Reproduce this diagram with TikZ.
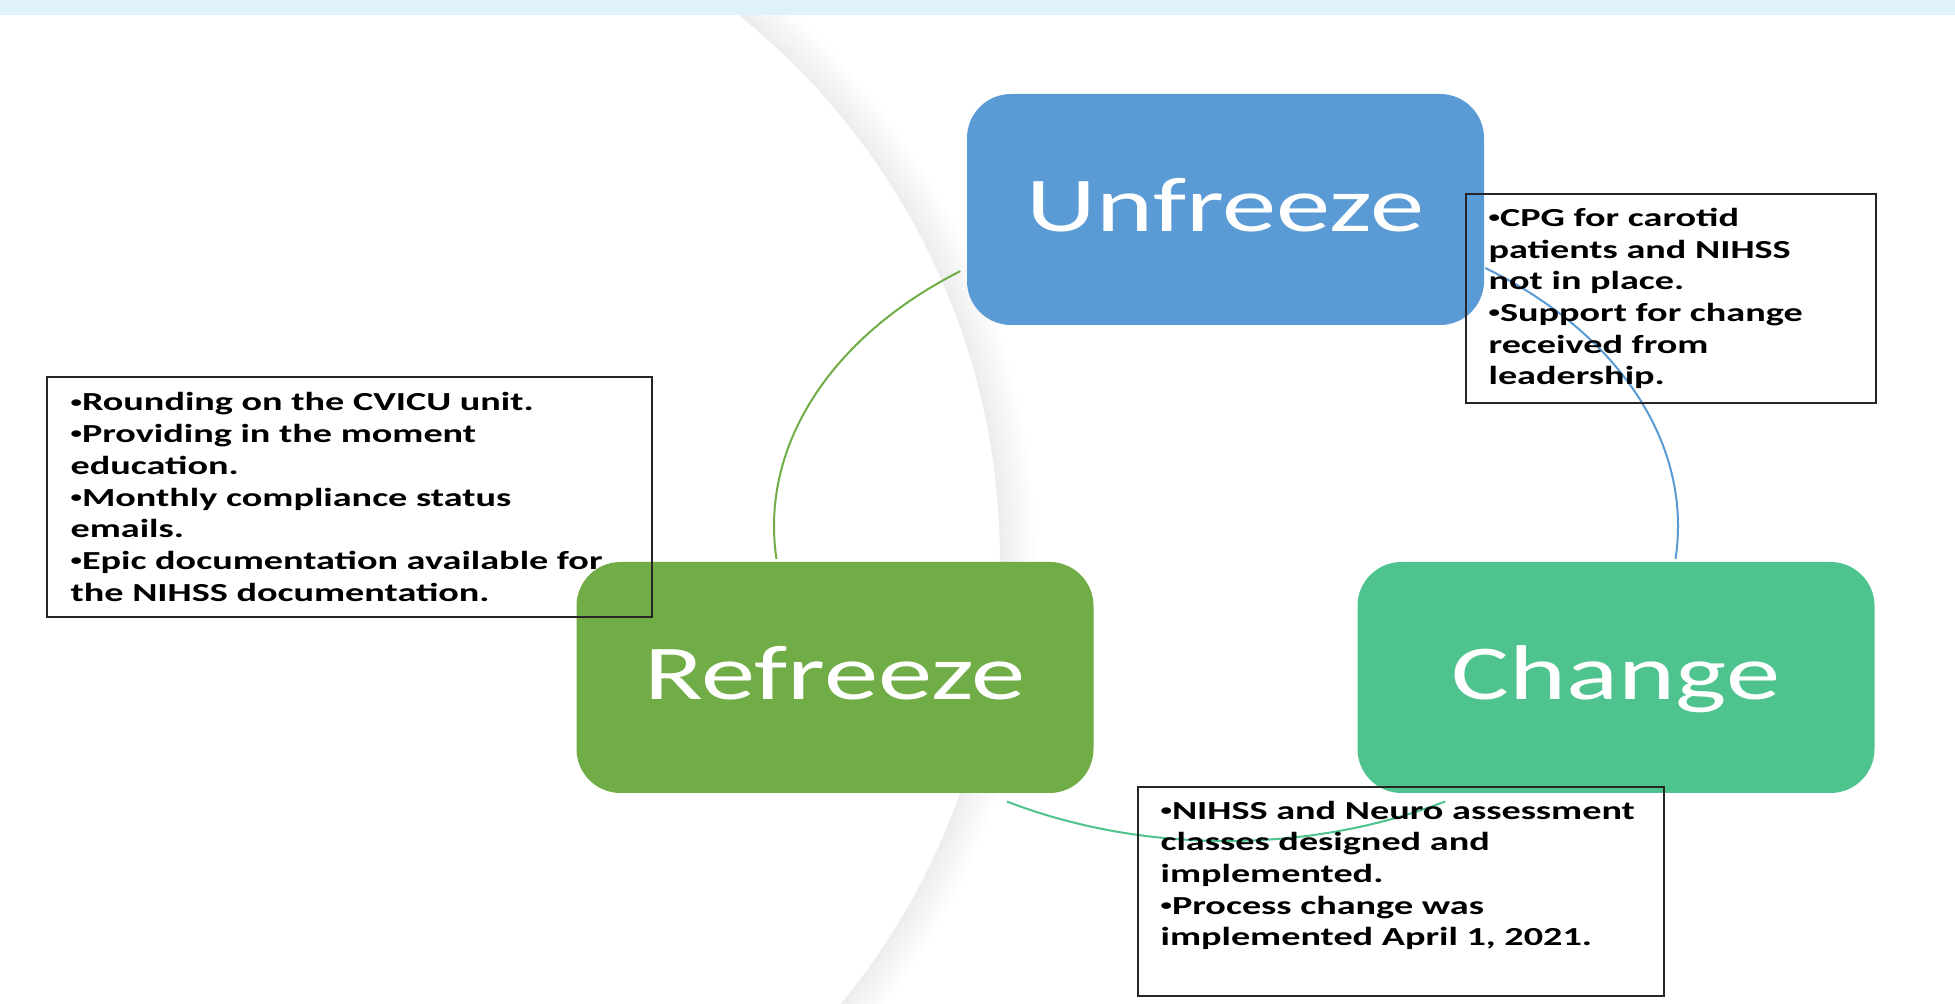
\documentclass[tikz,border=0pt]{standalone}
\usepackage{fontspec}
\setmainfont{Carlito}
\newfontfamily\stagefont[FakeStretch=1.4]{Carlito}
\newfontfamily\notefont[FakeStretch=1.47]{Carlito}
\definecolor{topband}{RGB}{224,242,249}
\definecolor{unfreezeblue}{RGB}{91,155,213}
\definecolor{refreezegreen}{RGB}{112,173,71}
\definecolor{changeteal}{RGB}{79,195,142}
\newcommand\nb{\raisebox{0.3ex}{\scalebox{0.6}{•}}}

\begin{document}
\begin{tikzpicture}[x=0.5pt, y=-0.5pt,
	stage/.style={rounded corners=22pt, minimum width=258.5pt, minimum height=115.5pt, inner sep=0pt,
		text=white, font=\stagefont\fontsize{38.8}{40}\selectfont, text height=24pt, text depth=2pt},
	noteframe/.style={draw=black!85, line width=0.8pt, inner sep=0pt},
	notetext/.style={font=\notefont\bfseries\fontsize{13}{15.85}\selectfont, align=left, anchor=west, inner sep=0pt},
	cycleline/.style={line width=1pt}]
	\useasboundingbox (0,0) rectangle (1955,1004);
	\clip (0,0) rectangle (1955,1004);
	\fill[white] (0,0) rectangle (1955,1004);

	% slide background
	\coordinate (slidearc) at (301,560);
	\foreach \r [evaluate=\r as \g using {max(0,7-\r/5)}] in {0,2,...,36}
		\draw[line width=1.1pt, draw=black!\g] (slidearc) circle[radius=700+\r];
	\fill[topband] (0,0) rectangle (1955,15);

	% cycle
	\coordinate (cyc) at (1226,526);
	\draw[cycleline, draw=refreezegreen] ([shift={(234:452 and 315)}]cyc) arc[start angle=234, end angle=174, x radius=452, y radius=315];
	\draw[cycleline, draw=unfreezeblue] ([shift={(-55:452 and 315)}]cyc) arc[start angle=-55, end angle=6, x radius=452, y radius=315];
	\draw[cycleline, draw=changeteal] ([shift={(61:452 and 315)}]cyc) arc[start angle=61, end angle=119, x radius=452, y radius=315];

	\node[stage, fill=unfreezeblue] (unfreeze) at (1225.5,209.5) {Unfreeze};
	\node[stage, fill=refreezegreen] (refreeze) at (835,677.5) {Refreeze};
	\node[stage, fill=changeteal] (change) at (1616,677.5) {Change};

	% notes
	\node[noteframe, minimum width=205pt, minimum height=104.5pt] (unfreezenote) at (1671,298.5) {};
	\node[notetext] (unfreezetext) at ([xshift=11.5pt]unfreezenote.west)
		{\nb CPG for carotid\\patients and NIHSS\\not in place.\\\nb Support for change\\received from\\leadership.};
	\node[noteframe, minimum width=302.5pt, minimum height=120pt] (refreezenote) at (349.5,497) {};
	\node[notetext] (refreezetext) at ([xshift=12pt]refreezenote.west)
		{\nb Rounding on the CVICU unit.\\\nb Providing in the moment\\education.\\\nb Monthly compliance status\\emails.\\\nb Epic documentation available for\\the NIHSS documentation.};
	\node[noteframe, minimum width=263pt, minimum height=104.5pt] (changenote) at (1401,891.5) {};
	\node[notetext] (changetext) at ([xshift=11.5pt, yshift=8pt]changenote.west)
		{\nb NIHSS and Neuro assessment\\classes designed and\\implemented.\\\nb Process change was\\implemented April 1, 2021.};
\end{tikzpicture}
\end{document}
